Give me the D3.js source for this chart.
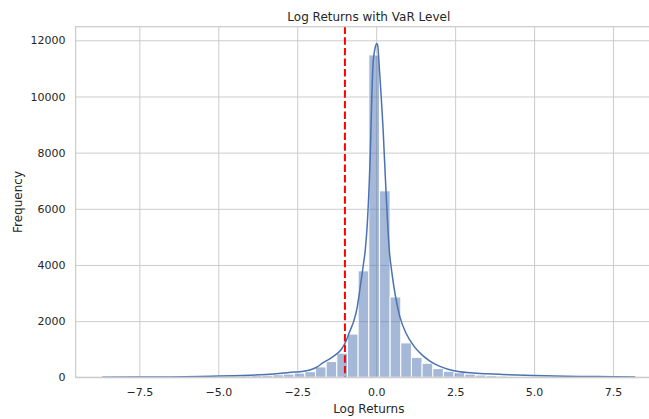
<!DOCTYPE html>
<html>
<head>
<meta charset="utf-8">
<script src="https://cdn.jsdelivr.net/npm/d3@7"></script>
<style>
  body { margin: 0; background: #fff; }
  svg { display: block; font-family: "DejaVu Sans", sans-serif; }
</style>
</head>
<body>
<div id="chart"></div>
<script>
// histogram: 50 bins between binMin and binMax
const binMin = -8.674, binMax = 8.206;
const counts = [
    2, 3, 4, 5, 7, 9, 11, 14, 18, 24,
    30, 36, 44, 52, 62, 74, 90, 115, 150, 200,
    370, 560, 860, 1540, 3790, 11480, 6640, 2860, 1225, 710,
    500, 310, 215, 165, 115, 80, 60, 45, 35, 28,
    22, 18, 14, 11, 9, 7, 5, 4, 3, 2
];

// kde curve
const kdeX = [-8.674, -7.5, -6.5, -5.6, -5.0, -4.5, -4.0, -3.5, -3.0, -2.6, -2.35, -2.1, -1.9, -1.68, -1.5, -1.3, -1.1,
    -0.95, -0.85, -0.71, -0.6, -0.52, -0.42, -0.34, -0.28, -0.2, -0.1, -0.03, 0.02, 0.05, 0.1, 0.22, 0.32,
    0.41, 0.5, 0.6, 0.75, 0.95, 1.2, 1.45, 1.7, 2.0, 2.3, 2.6, 3.0, 3.5, 4.0, 5.0, 6.0, 7.0, 8.206];
const kdeY = [3, 8, 15, 28, 42, 55, 72, 98, 140, 185, 205, 260, 350, 520, 640, 790, 1000,
    1300, 1600, 2000, 2500, 3100, 3900, 4600, 5500, 7500, 11150, 11750, 11890, 11800, 11000, 8800, 6400,
    4600, 3700, 2950, 2150, 1560, 1100, 800, 580, 400, 280, 210, 160, 125, 100, 65, 40, 25, 8];

const varLevel = -0.99;
const xTicks = [-7.5, -5.0, -2.5, 0.0, 2.5, 5.0, 7.5];
const yTicks = [0, 2000, 4000, 6000, 8000, 10000, 12000];

const width = 649, height = 419;
const plot = { left: 75.6, right: 662, top: 26.7, bottom: 377.3 };

const svg = d3.select("#chart").append("svg")
    .attr("width", width)
    .attr("height", height);

const span = binMax - binMin;
const x = d3.scaleLinear()
    .domain([binMin - 0.05 * span, binMax + 0.05 * span])
    .range([plot.left, plot.right]);
const y = d3.scaleLinear()
    .domain([0, d3.max(kdeY) * 1.05])
    .range([plot.bottom, plot.top]);

const bw = span / counts.length;
const bins = counts.map((c, i) => ({ x0: binMin + i * bw, x1: binMin + (i + 1) * bw, count: c }));

// grid + axes
const gx = svg.append("g")
    .attr("transform", `translate(0,${plot.bottom})`)
    .call(d3.axisBottom(x).tickValues(xTicks).tickFormat(d3.format(".1f"))
        .tickSizeInner(-(plot.bottom - plot.top)).tickSizeOuter(0).tickPadding(10.5));
const gy = svg.append("g")
    .attr("transform", `translate(${plot.left},0)`)
    .call(d3.axisLeft(y).tickValues(yTicks).tickFormat(d3.format("d"))
        .tickSizeInner(-(plot.right - plot.left)).tickSizeOuter(0).tickPadding(10));

[gx, gy].forEach(g => {
    g.select(".domain").remove();
    g.selectAll(".tick line").attr("stroke", "#cccccc").attr("stroke-width", 1);
    g.selectAll(".tick text").attr("fill", "#262626").attr("font-size", "11px")
        .attr("font-family", "DejaVu Sans");
});

// bars
svg.append("g").selectAll("rect")
    .data(bins)
    .enter()
    .append("rect")
    .attr("x", d => x(d.x0))
    .attr("y", d => y(d.count))
    .attr("width", d => x(d.x1) - x(d.x0))
    .attr("height", d => y(0) - y(d.count))
    .attr("fill", "#4c72b0")
    .attr("fill-opacity", 0.5)
    .attr("stroke", "#ffffff")
    .attr("stroke-width", 1);

// kde line
const line = d3.line()
    .x((d, i) => x(kdeX[i]))
    .y(d => y(d))
    .curve(d3.curveMonotoneX);
svg.append("path")
    .datum(kdeY)
    .attr("d", line)
    .attr("fill", "none")
    .attr("stroke", "#4c72b0")
    .attr("stroke-width", 1.5);

// VaR line
svg.append("line")
    .attr("x1", x(varLevel)).attr("x2", x(varLevel))
    .attr("y1", plot.top).attr("y2", plot.bottom)
    .attr("stroke", "#ff0000")
    .attr("stroke-width", 2)
    .attr("stroke-dasharray", "7.4,3.2");

// spines
svg.append("rect")
    .attr("x", plot.left).attr("y", plot.top)
    .attr("width", plot.right - plot.left)
    .attr("height", plot.bottom - plot.top)
    .attr("fill", "none")
    .attr("stroke", "#cccccc")
    .attr("stroke-width", 1.25);

// labels
const mid = (plot.left + plot.right) / 2;
svg.append("text")
    .attr("x", mid).attr("y", 20.5)
    .attr("text-anchor", "middle")
    .attr("font-size", "12px")
    .attr("fill", "#262626")
    .text("Log Returns with VaR Level");

svg.append("text")
    .attr("x", mid).attr("y", 412.5)
    .attr("text-anchor", "middle")
    .attr("font-size", "12px")
    .attr("fill", "#262626")
    .text("Log Returns");

svg.append("text")
    .attr("transform", `translate(22,${(plot.top + plot.bottom) / 2}) rotate(-90)`)
    .attr("text-anchor", "middle")
    .attr("font-size", "12px")
    .attr("fill", "#262626")
    .text("Frequency");
</script>
</body>
</html>
